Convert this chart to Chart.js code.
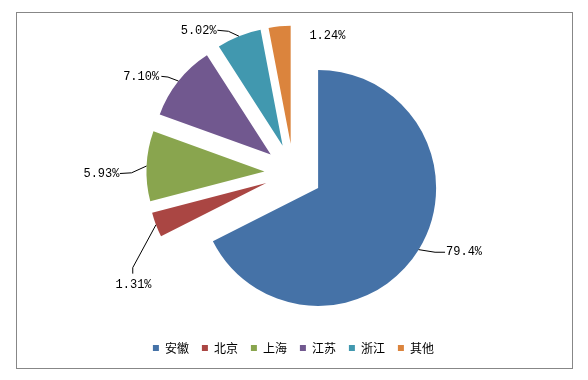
<!DOCTYPE html>
<html><head><meta charset="utf-8">
<script src="https://cdn.jsdelivr.net/npm/chart.js@4.4.1/dist/chart.umd.min.js"></script>
<style>html,body{margin:0;padding:0;background:#fff;overflow:hidden}</style>
</head><body>
<canvas id="c" width="588" height="380"></canvas>
<script>
// ---- data ----
const categories = ['安徽', '北京', '上海', '江苏', '浙江', '其他'];
const sliceShares = [67.6, 3.4, 9.6, 10.4, 6.1, 3.0];
const labelTexts = ['79.4%', '1.31%', '5.93%', '7.10%', '5.02%', '1.24%'];

// ---- style ----
const colors = ['#4572A7', '#AA4643', '#89A54E', '#71588F', '#4198AF', '#DB843D'];
const RADIUS = 118;
const EXPLODE = 29;
// leader/label layout relative to slice outer midpoint
const labelLayout = [
  {pts: [[16.4, 2.6], [26.4, 2.6]], text: [27.4, 2.6], align: 'left'},
  {pts: [[-23.2, 42.8], [-23.2, 48.8]], text: [-22.4, 60.5], align: 'center'},
  {pts: [[-15, 6.8], [-26.6, 7.5]], text: [-27.1, 7.8], align: 'right'},
  {pts: [[-10.5, -4], [-17.1, -4.7]], text: [-19.3, -4.7], align: 'right'},
  {pts: [[-10.5, -4.9], [-21.5, -5.9]], text: [-22.2, -5.2], align: 'right'},
  {pts: [], text: [29.8, 9.4], align: 'left'}
];

const frame = {
  id: 'frame',
  beforeDraw(chart) {
    const ctx = chart.ctx;
    ctx.save();
    ctx.fillStyle = '#fff';
    ctx.fillRect(0, 0, chart.width, chart.height);
    ctx.strokeStyle = '#878787';
    ctx.lineWidth = 1;
    ctx.strokeRect(16.5, 12.5, 556, 356);
    ctx.restore();
  }
};

// Chart.js enlarges the radius and trims the angle of offset arcs;
// compensate so every exploded slice keeps the same radius and its true angle.
const explodeFix = {
  id: 'explodeFix',
  afterDatasetUpdate(chart, args) {
    args.meta.data.forEach(arc => {
      const fix = 1 - Math.sin(Math.min(Math.PI, arc.circumference));
      const ro = EXPLODE * fix;
      arc.outerRadius = RADIUS - ro;
      const d = ro / (2 * Math.PI * RADIUS);
      arc.startAngle -= d;
      arc.endAngle += d;
    });
  }
};

const dataLabels = {
  id: 'dataLabels',
  afterDatasetsDraw(chart) {
    const ctx = chart.ctx;
    ctx.save();
    ctx.font = '12px "Liberation Mono", monospace';
    ctx.textBaseline = 'middle';
    ctx.fillStyle = '#000';
    ctx.strokeStyle = '#000';
    ctx.lineWidth = 1;
    chart.getDatasetMeta(0).data.forEach((arc, i) => {
      const mid = (arc.startAngle + arc.endAngle) / 2;
      const d = EXPLODE + RADIUS;
      const ax = arc.x + Math.cos(mid) * d;
      const ay = arc.y + Math.sin(mid) * d;
      const lay = labelLayout[i];
      if (lay.pts.length) {
        ctx.beginPath();
        ctx.moveTo(ax, ay);
        lay.pts.forEach(p => ctx.lineTo(ax + p[0], ay + p[1]));
        ctx.stroke();
      }
      ctx.textAlign = lay.align;
      ctx.fillText(labelTexts[i], ax + lay.text[0], ay + lay.text[1]);
    });
    ctx.restore();
  }
};

new Chart(document.getElementById('c'), {
  type: 'pie',
  data: {
    labels: categories,
    datasets: [{
      data: sliceShares,
      backgroundColor: colors,
      borderWidth: 0,
      offset: EXPLODE * 4
    }]
  },
  options: {
    responsive: false,
    animation: false,
    events: [],
    devicePixelRatio: 1,
    radius: RADIUS,
    layout: {padding: {top: 16.4, bottom: 16, left: 16, right: 17.2}},
    plugins: {
      tooltip: {enabled: false},
      legend: {
        position: 'bottom',
        labels: {
          boxWidth: 6,
          boxHeight: 6,
          padding: 13,
          color: '#000',
          font: {family: '"Noto Sans CJK SC", sans-serif', size: 12}
        }
      }
    }
  },
  plugins: [frame, explodeFix, dataLabels]
});
</script>
</body></html>
